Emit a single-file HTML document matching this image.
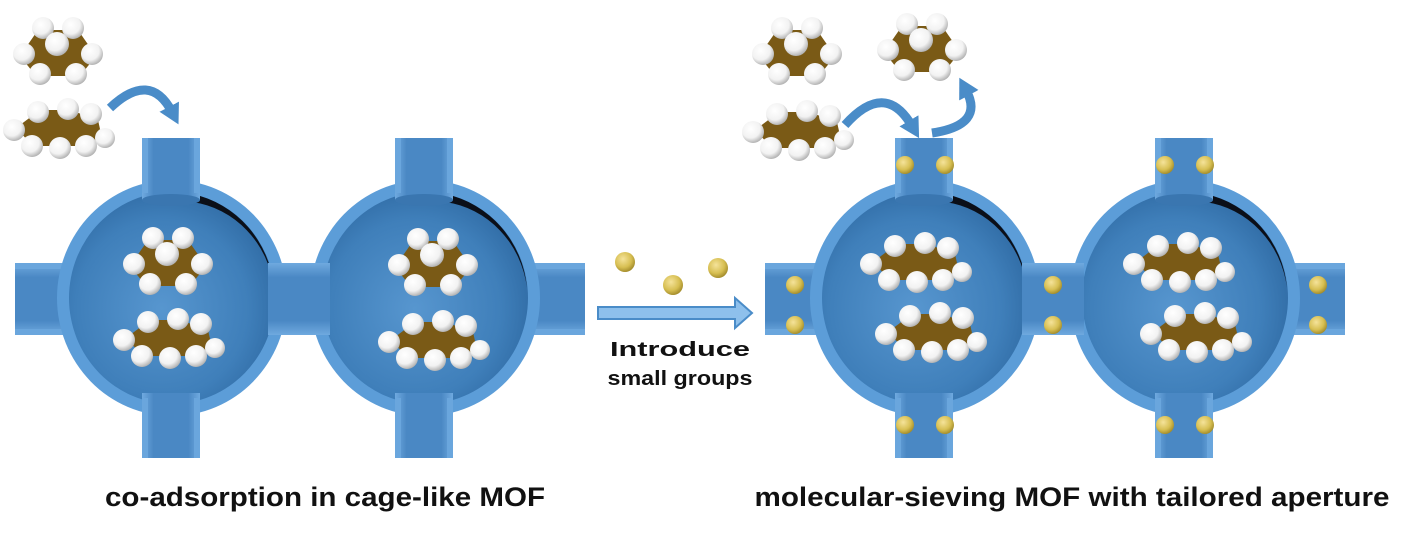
<!DOCTYPE html>
<html><head><meta charset="utf-8"><style>
html,body{margin:0;padding:0;background:#fff;}
svg{display:block;}
text{font-family:"Liberation Sans",Arial,sans-serif;font-weight:bold;fill:#111;}
</style></head><body>
<svg width="1401" height="542" viewBox="0 0 1401 542" xmlns="http://www.w3.org/2000/svg">
<defs>
<radialGradient id="inner" cx="0.45" cy="0.55" r="0.6">
<stop offset="0" stop-color="#5796cf"/><stop offset="0.7" stop-color="#3f7fba"/><stop offset="1" stop-color="#2f6aa3"/>
</radialGradient>
<linearGradient id="pipeV" x1="0" x2="1" y1="0" y2="0">
<stop offset="0" stop-color="#6fa9df"/><stop offset="0.2" stop-color="#4a88c4"/><stop offset="0.8" stop-color="#4a88c4"/><stop offset="1" stop-color="#6fa9df"/>
</linearGradient>
<linearGradient id="pipeH" x1="0" x2="0" y1="0" y2="1">
<stop offset="0" stop-color="#6fa9df"/><stop offset="0.2" stop-color="#4a88c4"/><stop offset="0.8" stop-color="#4a88c4"/><stop offset="1" stop-color="#6fa9df"/>
</linearGradient>
<radialGradient id="hball" cx="0.4" cy="0.35" r="0.7">
<stop offset="0" stop-color="#ffffff"/><stop offset="0.6" stop-color="#f2f2f2"/><stop offset="1" stop-color="#a8a8a8"/>
</radialGradient>
<radialGradient id="yball" cx="0.4" cy="0.35" r="0.7">
<stop offset="0" stop-color="#f5e39a"/><stop offset="0.6" stop-color="#d7bf52"/><stop offset="1" stop-color="#9c8526"/>
</radialGradient>
<g id="iso">
<polygon points="-20,-22 20,-22 38,4 22,24 -22,24 -38,4" fill="#7a5a16"/>
<circle cx="-15" cy="-24" r="11" fill="url(#hball)"/>
<circle cx="15" cy="-24" r="11" fill="url(#hball)"/>
<circle cx="-34" cy="2" r="11" fill="url(#hball)"/>
<circle cx="34" cy="2" r="11" fill="url(#hball)"/>
<circle cx="-18" cy="22" r="11" fill="url(#hball)"/>
<circle cx="18" cy="22" r="11" fill="url(#hball)"/>
<circle cx="-1" cy="-8" r="12" fill="url(#hball)"/>
</g>
<g id="but">
<polygon points="-42,0 -18,-18 12,-18 40,-8 44,10 28,18 -25,18" fill="#7a5a16"/>
<circle cx="-44" cy="2" r="11" fill="url(#hball)"/>
<circle cx="-20" cy="-16" r="11" fill="url(#hball)"/>
<circle cx="10" cy="-19" r="11" fill="url(#hball)"/>
<circle cx="33" cy="-14" r="11" fill="url(#hball)"/>
<circle cx="-26" cy="18" r="11" fill="url(#hball)"/>
<circle cx="2" cy="20" r="11" fill="url(#hball)"/>
<circle cx="28" cy="18" r="11" fill="url(#hball)"/>
<circle cx="47" cy="10" r="10" fill="url(#hball)"/>
</g>
<g id="cage">
<ellipse cx="0" cy="0" rx="115" ry="118" fill="#5c9dd8"/>
<ellipse cx="0" cy="0" rx="103" ry="106" fill="url(#inner)"/>
<path d="M 20,-104 A 103 106 0 0 1 102,-10 A 95 100 0 0 0 20,-96 Z" fill="#0b0f18"/>
<rect x="-30" y="-160" width="58" height="62" fill="url(#pipeV)"/>
<rect x="-30" y="-160" width="6" height="55" fill="#6aa6dd"/>
<rect x="22" y="-160" width="6" height="55" fill="#6aa6dd"/>
<ellipse cx="-1" cy="-98" rx="29" ry="6" fill="#3a76b0"/>
<rect x="-30" y="95" width="58" height="65" fill="url(#pipeV)"/>
<rect x="-30" y="100" width="6" height="60" fill="#6aa6dd"/>
<rect x="22" y="100" width="6" height="60" fill="#6aa6dd"/>
</g>
<g id="hpipe">
<rect x="0" y="-37" width="60" height="72" fill="url(#pipeH)"/>
<rect x="0" y="-37" width="60" height="6" fill="#6aa6dd"/>
<rect x="0" y="29" width="60" height="6" fill="#6aa6dd"/>
</g>
<marker id="ah" markerUnits="userSpaceOnUse" markerWidth="22" markerHeight="22" refX="6" refY="11" orient="auto"><path d="M0,0 L20,11 L0,22 Z" fill="#4a8cc8"/></marker>
</defs>

<use href="#hpipe" x="15" y="300"/>
<use href="#hpipe" x="268" y="300"/>
<use href="#hpipe" x="525" y="300"/>
<use href="#cage" x="172" y="298"/>
<use href="#cage" x="425" y="298"/>
<rect x="268" y="263" width="62" height="72" fill="url(#pipeH)"/>
<use href="#iso" x="168" y="262"/>
<use href="#but" x="168" y="338"/>
<use href="#iso" x="433" y="263"/>
<use href="#but" x="433" y="340"/>

<use href="#iso" x="58" y="52"/>
<use href="#but" x="58" y="128"/>
<path d="M 110,108 Q 150,70 172,112" fill="none" stroke="#4a8cc8" stroke-width="9" marker-end="url(#ah)"/>

<polygon points="598,307 735,307 735,298 752,313 735,328 735,319 598,319" fill="#8ec0ec" stroke="#4a8cc8" stroke-width="2"/>
<circle cx="625" cy="262" r="10" fill="url(#yball)"/>
<circle cx="673" cy="285" r="10" fill="url(#yball)"/>
<circle cx="718" cy="268" r="10" fill="url(#yball)"/>
<text x="680" y="356" font-size="20" text-anchor="middle" textLength="140" lengthAdjust="spacingAndGlyphs">Introduce</text>
<text x="680" y="385" font-size="20" text-anchor="middle" textLength="145" lengthAdjust="spacingAndGlyphs">small groups</text>

<use href="#hpipe" x="765" y="300"/>
<use href="#hpipe" x="1022" y="300"/>
<use href="#hpipe" x="1285" y="300"/>
<use href="#cage" x="925" y="298"/>
<use href="#cage" x="1185" y="298"/>
<rect x="1022" y="263" width="62" height="72" fill="url(#pipeH)"/>
<use href="#but" x="915" y="262"/>
<use href="#but" x="930" y="332"/>
<use href="#but" x="1178" y="262"/>
<use href="#but" x="1195" y="332"/>
<g fill="url(#yball)">
<circle cx="905" cy="165" r="9"/><circle cx="945" cy="165" r="9"/>
<circle cx="1165" cy="165" r="9"/><circle cx="1205" cy="165" r="9"/>
<circle cx="905" cy="425" r="9"/><circle cx="945" cy="425" r="9"/>
<circle cx="1165" cy="425" r="9"/><circle cx="1205" cy="425" r="9"/>
<circle cx="795" cy="285" r="9"/><circle cx="795" cy="325" r="9"/>
<circle cx="1053" cy="285" r="9"/><circle cx="1053" cy="325" r="9"/>
<circle cx="1318" cy="285" r="9"/><circle cx="1318" cy="325" r="9"/>
</g>
<use href="#iso" x="797" y="52"/>
<use href="#but" x="797" y="130"/>
<use href="#iso" x="922" y="48"/>
<path d="M 845,125 Q 885,80 912,126" fill="none" stroke="#4a8cc8" stroke-width="9" marker-end="url(#ah)"/>
<path d="M 932,133 Q 985,125 966,90" fill="none" stroke="#4a8cc8" stroke-width="9" marker-end="url(#ah)"/>

<text x="325" y="506" font-size="27" text-anchor="middle" textLength="440" lengthAdjust="spacingAndGlyphs">co-adsorption in cage-like MOF</text>
<text x="1072" y="506" font-size="27" text-anchor="middle" textLength="635" lengthAdjust="spacingAndGlyphs">molecular-sieving MOF with tailored aperture</text>
</svg>
</body></html>
